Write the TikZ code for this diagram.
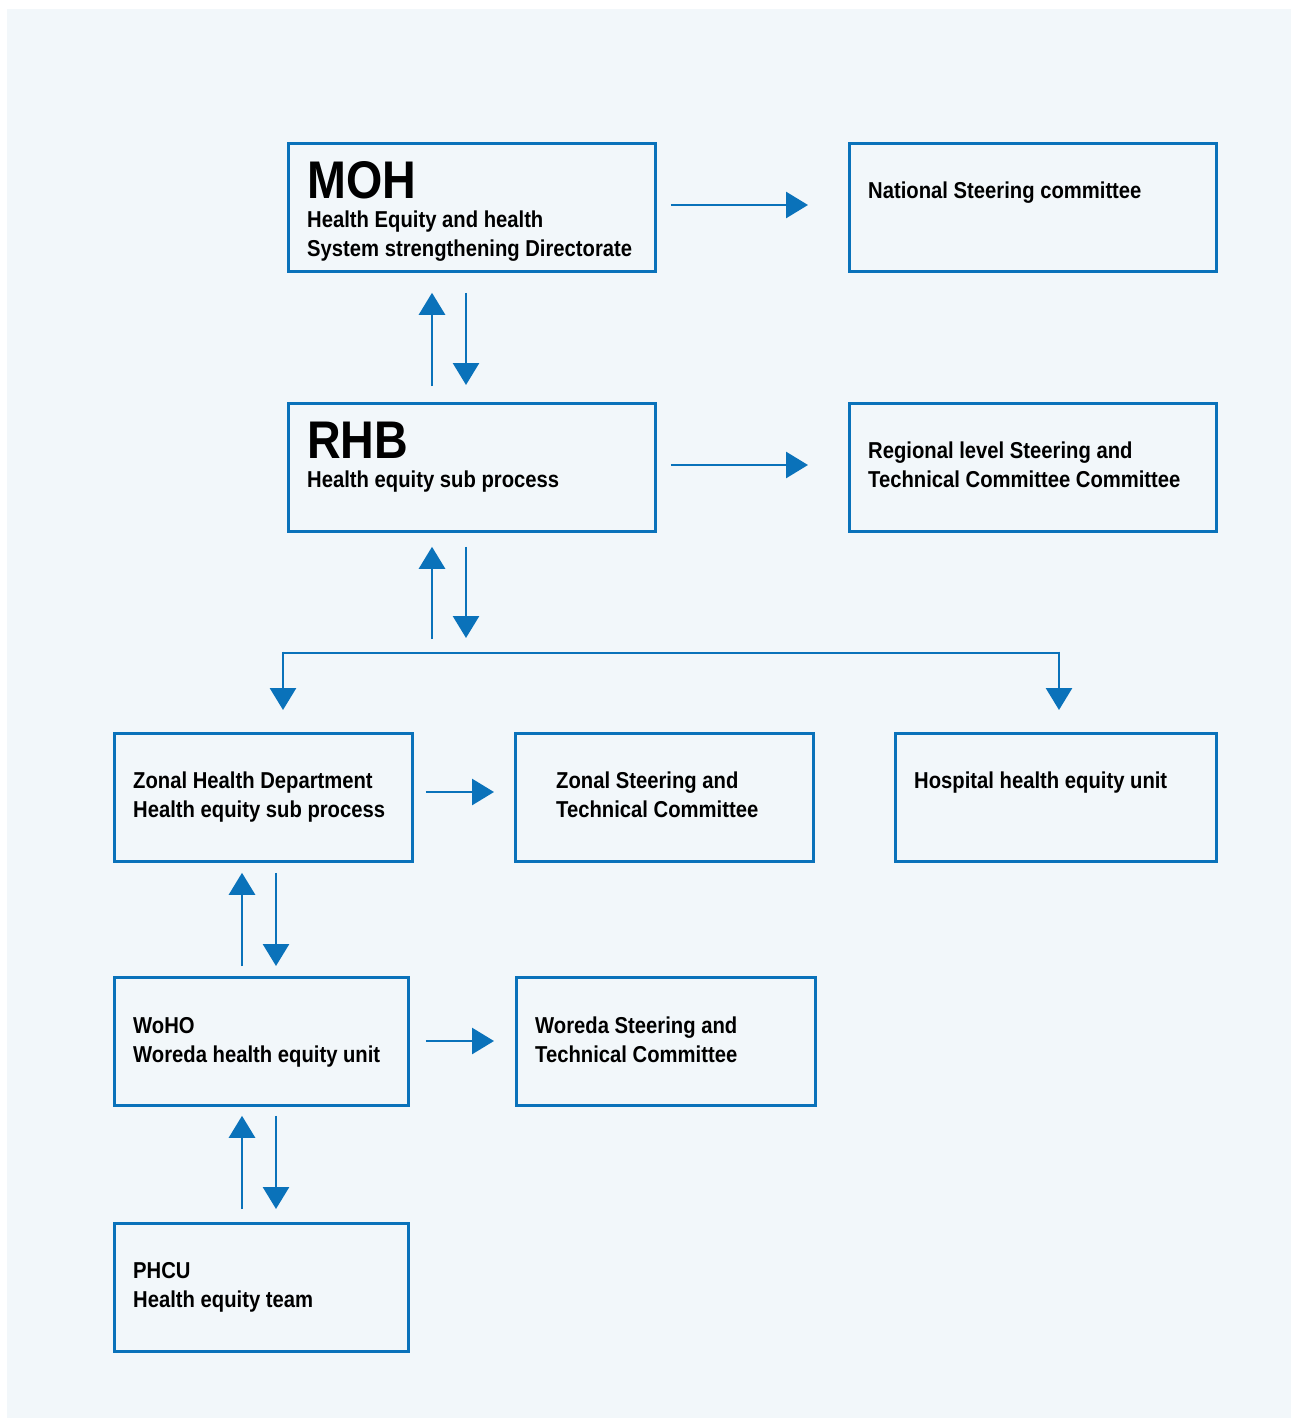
\documentclass[tikz,border=0pt]{standalone}
\usepackage{fontspec}
\newfontfamily\condfont{Liberation Sans}[FakeStretch=0.88]
\usetikzlibrary{arrows.meta,calc}
\definecolor{eblue}{HTML}{0A72BA}
\definecolor{ebg}{HTML}{F2F7FA}
\tikzset{
  box/.style={draw=eblue, line width=2.8pt, fill=ebg, inner sep=0pt, anchor=north west},
  arr/.style={draw=eblue, line width=2.8pt, -{Triangle[length=22pt,width=26pt]}},
  line/.style={draw=eblue, line width=2.8pt},
  txt/.style={anchor=base west, inner sep=0pt, align=left, text=black,
    font=\condfont\bfseries\fontsize{23}{29}\selectfont},
  big/.style={anchor=base west, inner sep=0pt, text=black,
    font=\condfont\bfseries\fontsize{53}{60}\selectfont},
}
\begin{document}
\begin{tikzpicture}[x=1pt,y=-1pt]
\useasboundingbox (0,0) rectangle (1291,1418);
\fill[white] (0,0) rectangle (1291,1418);
\fill[ebg] (7,9) rectangle (1291,1418);

% boxes
\node[box, minimum width=367pt, minimum height=128pt] (moh) at (287,142) {};
\node[box, minimum width=367pt, minimum height=128pt] (nat) at (848,142) {};
\node[box, minimum width=367pt, minimum height=128pt] (rhb) at (287,402) {};
\node[box, minimum width=367pt, minimum height=128pt] (reg) at (848,402) {};
\node[box, minimum width=298pt, minimum height=128pt] (zon) at (113,732) {};
\node[box, minimum width=298pt, minimum height=128pt] (zst) at (514,732) {};
\node[box, minimum width=321pt, minimum height=128pt] (hos) at (894,732) {};
\node[box, minimum width=294pt, minimum height=128pt] (woh) at (113,976) {};
\node[box, minimum width=299pt, minimum height=128pt] (wst) at (515,976) {};
\node[box, minimum width=294pt, minimum height=128pt] (phc) at (113,1222) {};

% texts (multi-line: base = last line)
\node[big] (tmoh) at (307,198) {MOH};
\node[txt] (tmoh2) at (307,256) {Health Equity and health\\System strengthening Directorate};
\node[txt] (tnat) at (868,198) {National Steering committee};
\node[big] (trhb) at (307,458) {RHB};
\node[txt] (trhb2) at (307,487) {Health equity sub process};
\node[txt] (treg) at (868,487) {Regional level Steering and\\Technical Committee Committee};
\node[txt] (tzon) at (133,817) {Zonal Health Department\\Health equity sub process};
\node[txt] (tzst) at (556,817) {Zonal Steering and\\Technical Committee};
\node[txt] (thos) at (914,788) {Hospital health equity unit};
\node[txt] (twoh) at (133,1062) {WoHO\\Woreda health equity unit};
\node[txt] (twst) at (535,1062) {Woreda Steering and\\Technical Committee};
\node[txt] (tphc) at (133,1307) {PHCU\\Health equity team};

% horizontal arrows
\draw[arr, shorten <=14pt, shorten >=40pt] (moh.east |- 0,205) -- (nat.west |- 0,205);
\draw[arr, shorten <=14pt, shorten >=40pt] (rhb.east |- 0,465) -- (reg.west |- 0,465);
\draw[arr, shorten <=12pt, shorten >=20pt] (zon.east |- 0,792) -- (zst.west |- 0,792);
\draw[arr, shorten <=16pt, shorten >=21pt] (woh.east |- 0,1041) -- (wst.west |- 0,1041);

% vertical pairs
\draw[arr, shorten <=16pt, shorten >=20pt] (rhb.north -| 432,0) -- (moh.south -| 432,0);
\draw[arr, shorten <=20pt, shorten >=17pt] (moh.south -| 466,0) -- (rhb.north -| 466,0);
\coordinate (bus) at (432,653);
\draw[arr, shorten <=14pt, shorten >=14pt] (bus) -- (rhb.south -| 432,0);
\draw[arr, shorten <=14pt, shorten >=15pt] (rhb.south -| 466,0) -- (bus -| 466,0);
\draw[line] (283,653) -- (1059,653);
\draw[arr, shorten >=22pt] (283,651.6) -- (zon.north -| 283,0);
\draw[arr, shorten >=22pt] (1059,651.6) -- (hos.north -| 1059,0);

\draw[arr, shorten <=10pt, shorten >=10pt] (woh.north -| 242,0) -- (zon.south -| 242,0);
\draw[arr, shorten <=10pt, shorten >=10pt] (zon.south -| 276,0) -- (woh.north -| 276,0);
\draw[arr, shorten <=13pt, shorten >=9pt] (phc.north -| 242,0) -- (woh.south -| 242,0);
\draw[arr, shorten <=9pt, shorten >=13pt] (woh.south -| 276,0) -- (phc.north -| 276,0);
\end{tikzpicture}
\end{document}
